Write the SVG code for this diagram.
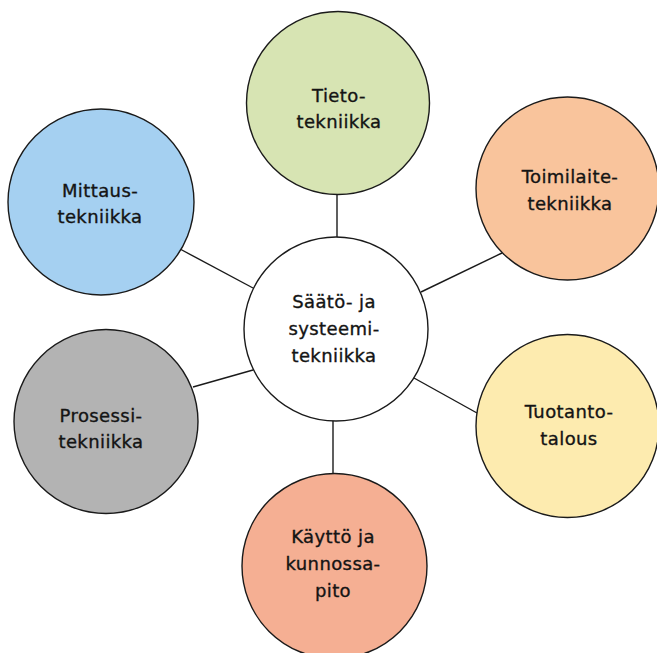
<svg xmlns="http://www.w3.org/2000/svg" width="657" height="653" viewBox="0 0 657 653">
<style>
.node circle{stroke:#1a1a1a;stroke-width:1.4}
.node text{font-family:"DejaVu Sans","Liberation Sans",sans-serif;font-size:18px;fill:#141414;stroke:#141414;stroke-width:0.35;text-anchor:middle;letter-spacing:0.4px}
#connectors line{stroke:#1a1a1a;stroke-width:1.4}
</style>
<rect width="657" height="653" fill="#ffffff"/>
<g id="connectors">
<line x1="337" y1="194" x2="337" y2="238"/>
<line x1="421" y1="292" x2="502" y2="253"/>
<line x1="414" y1="378" x2="477" y2="413"/>
<line x1="333" y1="420" x2="333" y2="474"/>
<line x1="193" y1="387" x2="253" y2="370"/>
<line x1="180" y1="249" x2="253" y2="288"/>
</g>
<g id="center" class="node">
<circle cx="336" cy="329" r="92" fill="#ffffff"/>
<text x="334" y="308">Säätö- ja</text>
<text x="334" y="335">systeemi-</text>
<text x="334" y="362">tekniikka</text>
</g>
<g id="tieto" class="node">
<circle cx="338" cy="103" r="91.5" fill="#D7E4B3"/>
<text x="339" y="102">Tieto-</text>
<text x="339" y="128">tekniikka</text>
</g>
<g id="toimilaite" class="node">
<circle cx="567.5" cy="188.5" r="91.5" fill="#F9C49C"/>
<text x="570" y="183">Toimilaite-</text>
<text x="570" y="210">tekniikka</text>
</g>
<g id="tuotanto" class="node">
<circle cx="567.5" cy="426" r="91.5" fill="#FDEBAF"/>
<text x="569" y="418">Tuotanto-</text>
<text x="569" y="445">talous</text>
</g>
<g id="kaytto" class="node">
<circle cx="334.5" cy="566" r="92.5" fill="#F5AF93"/>
<text x="333" y="543">Käyttö ja</text>
<text x="333" y="570">kunnossa-</text>
<text x="333" y="597">pito</text>
</g>
<g id="prosessi" class="node">
<circle cx="106" cy="421.5" r="92" fill="#B3B3B3"/>
<text x="101" y="422">Prosessi-</text>
<text x="101" y="448">tekniikka</text>
</g>
<g id="mittaus" class="node">
<circle cx="101" cy="202" r="93" fill="#A5D0F1"/>
<text x="100" y="197">Mittaus-</text>
<text x="100" y="223">tekniikka</text>
</g>
</svg>
